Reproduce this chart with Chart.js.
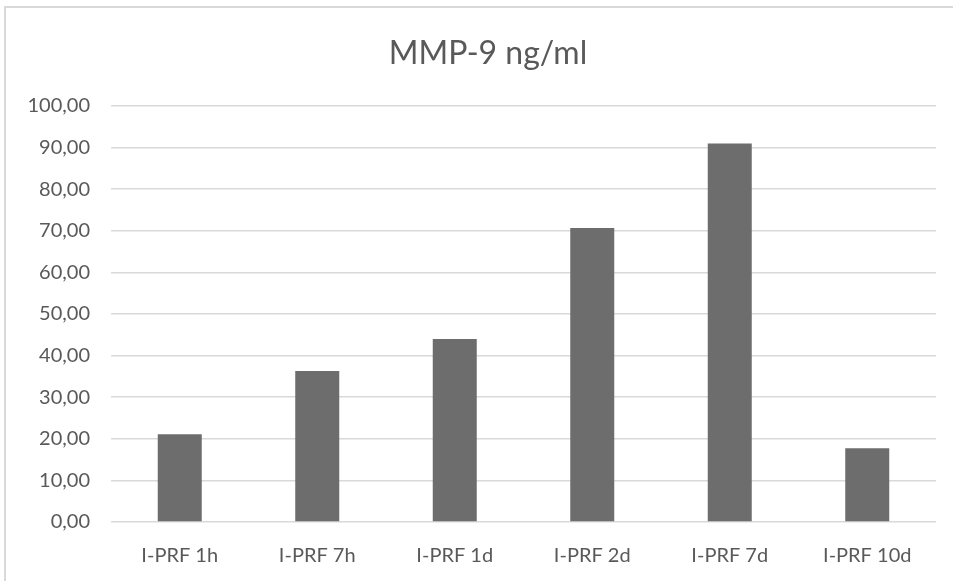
<!DOCTYPE html>
<html>
<head>
<meta charset="utf-8">
<script src="https://cdn.jsdelivr.net/npm/chart.js@4/dist/chart.umd.min.js"></script>
<style>
  html, body { margin: 0; padding: 0; background: #fff; }
  body { width: 953px; height: 581px; overflow: hidden; position: relative; }
  .frame {
    position: absolute; left: 4px; top: 6px; width: 960px; height: 600px;
    border-top: 2px solid #d9d9d9; border-left: 2px solid #d9d9d9;
  }
  #wrap { position: absolute; left: 0; top: 0; width: 953px; height: 581px; }
</style>
</head>
<body>
<div class="frame"></div>
<div id="wrap"><canvas id="mmpChart"></canvas></div>
<script>
const categories = ['I-PRF 1h', 'I-PRF 7h', 'I-PRF 1d', 'I-PRF 2d', 'I-PRF 7d', 'I-PRF 10d']
const mmp9Values = [21.1, 36.3, 44.0, 70.7, 91.0, 17.7]
const yTicks = [0, 10, 20, 30, 40, 50, 60, 70, 80, 90, 100]
const chartTitle = 'MMP-9 ng/ml'

const labelColor = '#595959'
const gridColor = '#d9d9d9'

// Title drawn by hand so it can sit a bit right of the canvas centre
const titlePlugin = {
  id: 'offsetTitle',
  afterDraw(chart) {
    const c = chart.ctx
    c.save()
    c.font = '32px Lato'
    c.fillStyle = labelColor
    c.textAlign = 'center'
    c.textBaseline = 'middle'
    c.fillText(chartTitle, 488, 54)
    c.restore()
  }
}

const ctx = document.getElementById('mmpChart').getContext('2d')

new Chart(ctx, {
  type: 'bar',
  data: {
    labels: categories,
    datasets: [{
      label: chartTitle,
      data: mmp9Values,
      backgroundColor: '#6d6d6d',
      borderWidth: 0,
      barPercentage: 0.32,
      categoryPercentage: 1
    }]
  },
  plugins: [titlePlugin],
  options: {
    responsive: true,
    maintainAspectRatio: false,
    animation: false,
    layout: {
      padding: { left: 0, right: 17, top: 106, bottom: 0 }
    },
    plugins: {
      legend: { display: false },
      tooltip: { enabled: false },
      title: { display: false }
    },
    scales: {
      x: {
        grid: { display: false, drawTicks: false },
        border: { display: false },
        ticks: {
          color: labelColor,
          padding: 22,
          font: { family: 'Lato', size: 20 }
        },
        afterFit(scale) { scale.height = 59 }
      },
      y: {
        min: 0,
        max: 100,
        afterBuildTicks(scale) {
          scale.ticks = yTicks.map(v => ({ value: v }))
        },
        grid: { color: gridColor, lineWidth: 1.5, drawTicks: false },
        border: { display: false },
        ticks: {
          color: labelColor,
          padding: 21,
          font: { family: 'Lato', size: 20 },
          callback: function(value) {
            return value.toFixed(2).replace('.', ',')
          }
        },
        afterFit(scale) { scale.width = 111 }
      }
    }
  }
})
</script>
</body>
</html>
